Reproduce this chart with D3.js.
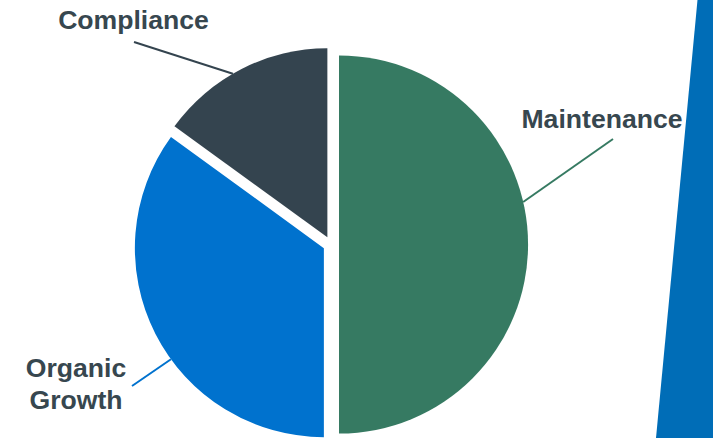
<!DOCTYPE html>
<html>
<head>
<meta charset="utf-8">
<script src="https://cdn.jsdelivr.net/npm/d3@7"></script>
<style>
  html, body { margin: 0; padding: 0; background: #ffffff; }
  svg { display: block; }
</style>
</head>
<body>
<svg id="chart" width="713" height="438"></svg>
<script>
// ---- data ----
const categories = ["Maintenance", "Organic Growth", "Compliance"];
const values = [50, 35, 15];
const colors = ["#367A62", "#0072CE", "#34444F"];
// label text lines per category
const labelLines = [["Maintenance"], ["Organic", "Growth"], ["Compliance"]];

// ---- layout ----
const W = 713, H = 438;
const cx = 331, cy = 244.5, R = 189, explode = 8;
// leader line: angle (deg, clockwise from top) on the slice arc, and label anchor
const leaderAngle = [77, 234, 330];
const labelAnchor = [[613, 139], [132, 386], [134, 42]];
const labelText = [[602, 128], [76, 377], [133.5, 29]];
const lineH = 31.5;

const svg = d3.select("#chart");

// decorative band at right
svg.append("polygon")
  .attr("points", [[697.5, 0], [W, 0], [W, H], [656, H]].map(p => p.join(",")).join(" "))
  .attr("fill", "#006DB7");

const pie = d3.pie().sort(null).value(d => d)(values);
const arc = d3.arc().innerRadius(0).outerRadius(R);

const g = svg.append("g").attr("transform", `translate(${cx},${cy})`);

pie.forEach((d, i) => {
  const mid = (d.startAngle + d.endAngle) / 2;
  const ox = Math.sin(mid) * explode, oy = -Math.cos(mid) * explode;
  const sg = g.append("g").attr("transform", `translate(${ox},${oy})`);
  sg.append("path").attr("d", arc(d)).attr("fill", colors[i]);

  // leader line
  const a = leaderAngle[i] * Math.PI / 180;
  const px = cx + ox + Math.sin(a) * R;
  const py = cy + oy - Math.cos(a) * R;
  svg.append("line")
    .attr("x1", px).attr("y1", py)
    .attr("x2", labelAnchor[i][0]).attr("y2", labelAnchor[i][1])
    .attr("stroke", colors[i]).attr("stroke-width", 2);

  const t = svg.append("text")
    .attr("x", labelText[i][0]).attr("y", labelText[i][1])
    .attr("text-anchor", "middle")
    .attr("font-family", "Liberation Sans, Arial, sans-serif")
    .attr("font-weight", "bold")
    .attr("font-size", "26.6px")
    .attr("fill", "#37474F");
  labelLines[i].forEach((ln, k) => {
    t.append("tspan").attr("x", labelText[i][0]).attr("dy", k === 0 ? 0 : lineH).text(ln);
  });
});
</script>
</body>
</html>
